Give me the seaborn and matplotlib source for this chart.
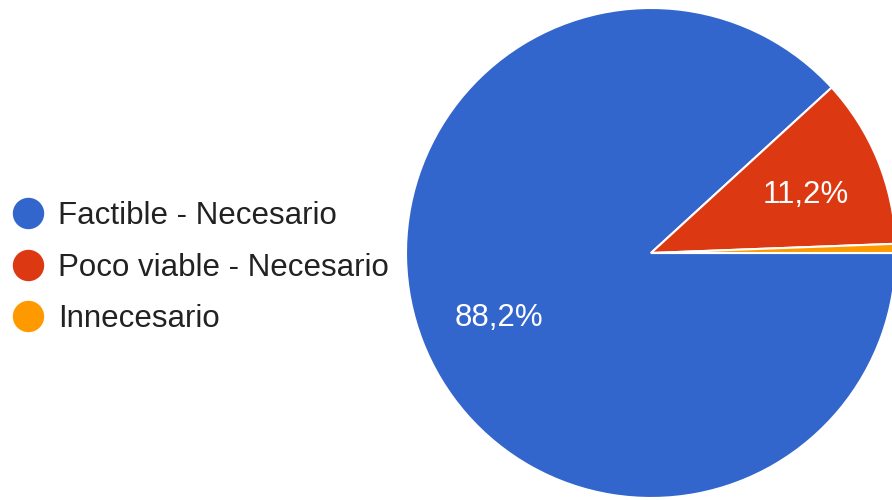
import matplotlib
matplotlib.use("Agg")
import matplotlib.pyplot as plt
from matplotlib.lines import Line2D
import seaborn as sns

# respuestas (porcentaje)
categorias = ["Factible - Necesario", "Poco viable - Necesario", "Innecesario"]
porcentajes = [88.2, 11.2, 0.6]
colores = ["#3366CC", "#DC3912", "#FF9900"]

sns.set_theme(style="white")
plt.rcParams['font.family'] = ['Liberation Sans', 'DejaVu Sans']

fig = plt.figure(figsize=(8.92, 5), dpi=100)
ax = fig.add_axes([0, 0, 1, 1])

def etiqueta(pct):
    if pct < 1:
        return ""
    return f"{pct:.1f}".replace(".", ",") + "%"

wedges, textos, autotextos = ax.pie(
    porcentajes, colors=colores, startangle=0, counterclock=False,
    autopct=etiqueta, pctdistance=0.675,
    wedgeprops=dict(edgecolor="white", linewidth=1.5),
    textprops=dict(color="white", fontsize=22.5))

# centro en (651, 253) px, radio 245 px
r = 245
ax.set_xlim(-651 / r, (892 - 651) / r)
ax.set_ylim(-(500 - 253) / r, 253 / r)
ax.axis("off")

# bajar un poco las etiquetas
for t in autotextos:
    x, y = t.get_position()
    t.set_position((x + 2 / r, y - 5 / r))

handles = [Line2D([], [], marker="o", linestyle="", markersize=21.6,
                  markerfacecolor=c, markeredgecolor=c) for c in colores]
fig.legend(handles, categorias, loc="center left", bbox_to_anchor=(0.0, 0.465),
           frameon=False, fontsize=22.5, handletextpad=0.07, labelspacing=0.68,
           borderpad=0.0, borderaxespad=0.0, handlelength=1.79,
           labelcolor="#222222")

fig.savefig("out.png", dpi=100)
